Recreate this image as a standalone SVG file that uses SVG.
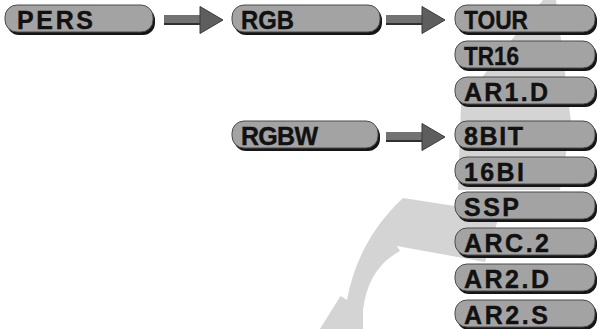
<svg xmlns="http://www.w3.org/2000/svg" width="598" height="329" viewBox="0 0 598 329">
<style>
.sh{fill:#151515}
.bx{fill:#a3a3a3;stroke:#4a4a4a;stroke-width:1}
.t{font-family:"Liberation Sans",Arial,sans-serif;font-weight:bold;font-size:25px;fill:#111;stroke:#111;stroke-width:0.4}
.wm{fill:#d4d4d4}
.shaft{fill:#727272}
.shaftb{fill:#303030}
.head{fill:#5e5e5e;stroke:#3a3a3a;stroke-width:1}
</style>
<defs>
<g id="arrow">
<rect class="shaft" x="0" y="-5" width="38" height="9"/>
<rect class="shaftb" x="0" y="3" width="38" height="2"/>
<polygon class="head" points="36,-13.5 59,0 36,13.5"/>
</g>
</defs>
<rect width="598" height="329" fill="#fff"/>
<g id="watermark">
<polygon class="wm" points="543,0 556,0 571,122 560,190 458,190 461,104"/>
<path class="wm" d="M403,198 L500,213 L485,262 L397,246 L400,251 Q368,268 363,310 L363,329 L320,329 L340.5,296 L347,300 Q358,240 403,198 Z"/>
</g>
<g id="connectors">
<use href="#arrow" x="164" y="20"/>
<use href="#arrow" x="386" y="20"/>
<use href="#arrow" x="386" y="137"/>
</g>
<g id="n-pers"><rect class="sh" x="7" y="8" width="148" height="27" rx="12"/><rect class="bx" x="5" y="5" width="148" height="27" rx="12"/><text class="t" x="17" y="29" textLength="76" lengthAdjust="spacing">PERS</text></g>
<g id="n-rgb"><rect class="sh" x="234" y="8" width="148" height="27" rx="12"/><rect class="bx" x="232" y="5" width="148" height="27" rx="12"/><text class="t" x="241" y="29" textLength="53" lengthAdjust="spacingAndGlyphs">RGB</text></g>
<g id="n-rgbw"><rect class="sh" x="234" y="124" width="146" height="27" rx="12"/><rect class="bx" x="232" y="121" width="146" height="27" rx="12"/><text class="t" x="241" y="145" textLength="77" lengthAdjust="spacing">RGBW</text></g>
<g id="n-tour"><rect class="sh" x="457" y="8" width="140" height="27" rx="12"/><rect class="bx" x="455" y="5" width="140" height="27" rx="12"/><text class="t" x="464" y="29" textLength="64" lengthAdjust="spacingAndGlyphs">TOUR</text></g>
<g id="n-tr16"><rect class="sh" x="457" y="44" width="140" height="27" rx="12"/><rect class="bx" x="455" y="41" width="140" height="27" rx="12"/><text class="t" x="464" y="65" textLength="55" lengthAdjust="spacingAndGlyphs">TR16</text></g>
<g id="n-ar1d"><rect class="sh" x="457" y="80" width="140" height="27" rx="12"/><rect class="bx" x="455" y="77" width="140" height="27" rx="12"/><text class="t" x="464" y="101" textLength="84" lengthAdjust="spacing">AR1.D</text></g>
<g id="n-8bit"><rect class="sh" x="457" y="124" width="140" height="27" rx="12"/><rect class="bx" x="455" y="121" width="140" height="27" rx="12"/><text class="t" x="464" y="145" textLength="59" lengthAdjust="spacing">8BIT</text></g>
<g id="n-16bi"><rect class="sh" x="457" y="160" width="140" height="27" rx="12"/><rect class="bx" x="455" y="157" width="140" height="27" rx="12"/><text class="t" x="464" y="181" textLength="60" lengthAdjust="spacing">16BI</text></g>
<g id="n-ssp"><rect class="sh" x="457" y="195" width="140" height="27" rx="12"/><rect class="bx" x="455" y="192" width="140" height="27" rx="12"/><text class="t" x="464" y="216" textLength="55" lengthAdjust="spacing">SSP</text></g>
<g id="n-arc2"><rect class="sh" x="457" y="231" width="140" height="27" rx="12"/><rect class="bx" x="455" y="228" width="140" height="27" rx="12"/><text class="t" x="464" y="252" textLength="85" lengthAdjust="spacing">ARC.2</text></g>
<g id="n-ar2d"><rect class="sh" x="457" y="267" width="140" height="27" rx="12"/><rect class="bx" x="455" y="264" width="140" height="27" rx="12"/><text class="t" x="464" y="288" textLength="85" lengthAdjust="spacing">AR2.D</text></g>
<g id="n-ar2s"><rect class="sh" x="457" y="303" width="140" height="27" rx="12"/><rect class="bx" x="455" y="300" width="140" height="27" rx="12"/><text class="t" x="464" y="324" textLength="84" lengthAdjust="spacing">AR2.S</text></g>
</svg>
